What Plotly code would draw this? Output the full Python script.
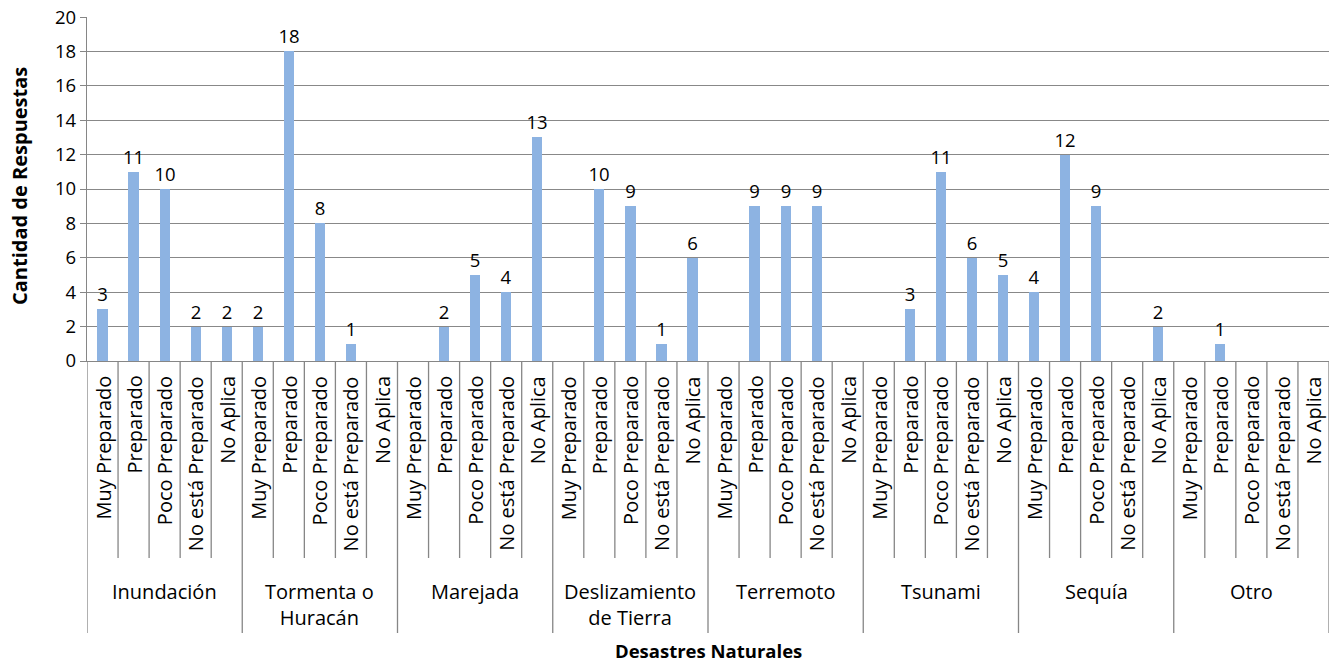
import plotly.graph_objects as go

groups = ["Inundación", "Tormenta o<br>Huracán", "Marejada", "Deslizamiento<br>de Tierra",
          "Terremoto", "Tsunami", "Sequía", "Otro"]
levels = ["Muy Preparado", "Preparado", "Poco Preparado", "No está Preparado", "No Aplica"]

inundacion = [3, 11, 10, 2, 2]
tormenta = [2, 18, 8, 1, None]
marejada = [None, 2, 5, 4, 13]
deslizamiento = [None, 10, 9, 1, 6]
terremoto = [None, 9, 9, 9, None]
tsunami = [None, 3, 11, 6, 5]
sequia = [4, 12, 9, None, 2]
otro = [None, 1, None, None, None]

series = [inundacion, tormenta, marejada, deslizamiento, terremoto, tsunami, sequia, otro]
values = [v for s in series for v in s]
xs = list(range(len(values)))

W, H = 1337, 664
L, R, T, B = 87, 8, 17, 303
ph = H - T - B

def py(pix):
    return (H - B - pix) / ph

font = "Open Sans"
fig = go.Figure()
fig.add_trace(go.Bar(
    x=xs, y=values, width=0.33, marker=dict(color="#8DB3E2", line=dict(width=0)),
    text=[("" if v is None else str(v)) for v in values], textposition="outside",
    constraintext="none",
    textfont=dict(family=font, size=18.5, color="#000"), cliponaxis=False,
    hoverinfo="skip"))

shapes = []
ann = []
n = len(values)
for i in range(n + 1):
    xb = i - 0.5
    is_group = (i % 5 == 0)
    y1 = py(633) if is_group else py(558)
    shapes.append(dict(type="line", xref="x", yref="paper", x0=xb, x1=xb, y0=0, y1=y1,
                       line=dict(color="#868686", width=1.3)))
for i in range(n):
    ann.append(dict(x=i, y=py(374), xref="x", yref="paper", text=levels[i % 5],
                    textangle=-90, showarrow=False, xanchor="center", yanchor="top",
                    font=dict(family=font, size=20, color="#000")))
for g, name in enumerate(groups):
    ann.append(dict(x=g * 5 + 2, y=py(576), xref="x", yref="paper", text=name,
                    showarrow=False, xanchor="center", yanchor="top",
                    font=dict(family=font, size=20, color="#000")))
ann.append(dict(x=0.5, y=py(650), xref="paper", yref="paper", text="<b>Desastres Naturales</b>",
                showarrow=False, xanchor="center", yanchor="middle",
                font=dict(family=font, size=18.5, color="#000")))
ann.append(dict(x=0, y=py(186), xref="paper", yref="paper", xshift=19 - 87,
                text="<b>Cantidad de Respuestas</b>", textangle=-90,
                showarrow=False, xanchor="center", yanchor="middle",
                font=dict(family=font, size=20, color="#000")))

fig.update_layout(
    width=W, height=H, margin=dict(l=L, r=R, t=T, b=B, autoexpand=False),
    paper_bgcolor="white", plot_bgcolor="white", showlegend=False,
    shapes=shapes, annotations=ann,
    uniformtext=dict(minsize=18, mode="show"),
    xaxis=dict(range=[-0.5, n - 0.5], showticklabels=False, showgrid=False, zeroline=False,
               showline=True, linecolor="#868686", linewidth=1.3, ticks="", automargin=False),
    yaxis=dict(range=[0, 20.001], tickvals=list(range(0, 21, 2)), showgrid=True,
               gridcolor="#888888", gridwidth=1.3,
               zeroline=False, showline=True, linecolor="#868686", linewidth=1.3,
               ticks="outside", ticklen=6, tickcolor="#868686", automargin=False,
               tickfont=dict(family=font, size=18.5, color="#000")),
    bargap=0,
)
fig.write_html("out.html", config={"displayModeBar": False},
               post_script="document.body.style.margin='0';document.body.style.overflow='hidden';")
